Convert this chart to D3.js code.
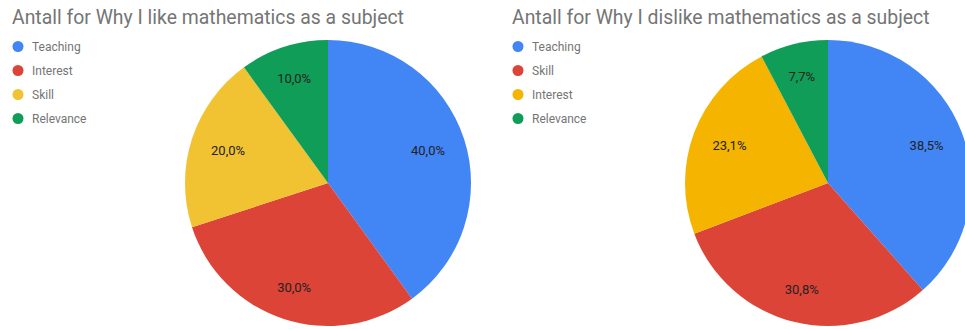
<!DOCTYPE html>
<html>
<head>
<meta charset="utf-8">
<script src="https://cdn.jsdelivr.net/npm/d3@7"></script>
<style>
  html, body { margin: 0; padding: 0; background: #fff; }
  svg { display: block; font-family: Roboto, Arial, sans-serif; }
</style>
</head>
<body>
<svg id="chart" width="965" height="329"></svg>
<script>
// Survey counts behind each pie
const likeTitle = "Antall for Why I like mathematics as a subject";
const likeCategories = ["Teaching", "Interest", "Skill", "Relevance"];
const likeValues = [4, 3, 2, 1];
const likeColors = ["#4285f4", "#db4437", "#f1c232", "#0f9d58"];

const dislikeTitle = "Antall for Why I dislike mathematics as a subject";
const dislikeCategories = ["Teaching", "Skill", "Interest", "Relevance"];
const dislikeValues = [5, 4, 3, 1];
const dislikeColors = ["#4285f4", "#db4437", "#f4b400", "#0f9d58"];

const svg = d3.select("#chart");
const fmt = v => d3.format(".1f")(v).replace(".", ",") + "%";

function drawPie(x0, title, cats, vals, colors, cx, cy, r) {
  const g = svg.append("g").attr("transform", `translate(${x0},0)`);

  g.append("text")
    .attr("x", 12).attr("y", 24)
    .attr("font-size", 19.4)
    .attr("fill", "#757575")
    .text(title);

  const legend = g.selectAll("g.legend").data(cats).join("g")
    .attr("transform", (d, i) => `translate(0,${46.5 + i * 24})`);
  legend.append("circle")
    .attr("cx", 18).attr("cy", 0).attr("r", 5.5)
    .attr("fill", (d, i) => colors[i]);
  legend.append("text")
    .attr("x", 32).attr("y", 4.3)
    .attr("font-size", 12)
    .attr("fill", "#757575")
    .text(d => d);

  const total = d3.sum(vals);
  const pie = d3.pie().sort(null).value(d => d)(vals);
  const arc = d3.arc().innerRadius(0).outerRadius(r);

  // label sits a bit further out when the slice midpoint points up or down,
  // so the text box keeps clear of the centre
  const labelPos = d => {
    const a = (d.startAngle + d.endAngle) / 2;
    const lr = r * 0.72 + 7 * Math.abs(Math.cos(a));
    return [Math.sin(a) * lr, -Math.cos(a) * lr];
  };

  const pg = g.append("g").attr("transform", `translate(${cx},${cy})`);
  pg.selectAll("path").data(pie).join("path")
    .attr("d", arc)
    .attr("fill", (d, i) => colors[i]);
  pg.selectAll("text").data(pie).join("text")
    .attr("transform", d => `translate(${labelPos(d)})`)
    .attr("text-anchor", "middle")
    .attr("dy", "0.35em")
    .attr("font-size", 13)
    .attr("fill", "#222")
    .text(d => fmt(d.data / total * 100));
}

drawPie(0, likeTitle, likeCategories, likeValues, likeColors, 328, 183, 143);
drawPie(500, dislikeTitle, dislikeCategories, dislikeValues, dislikeColors, 328, 183, 143);
</script>
</body>
</html>
